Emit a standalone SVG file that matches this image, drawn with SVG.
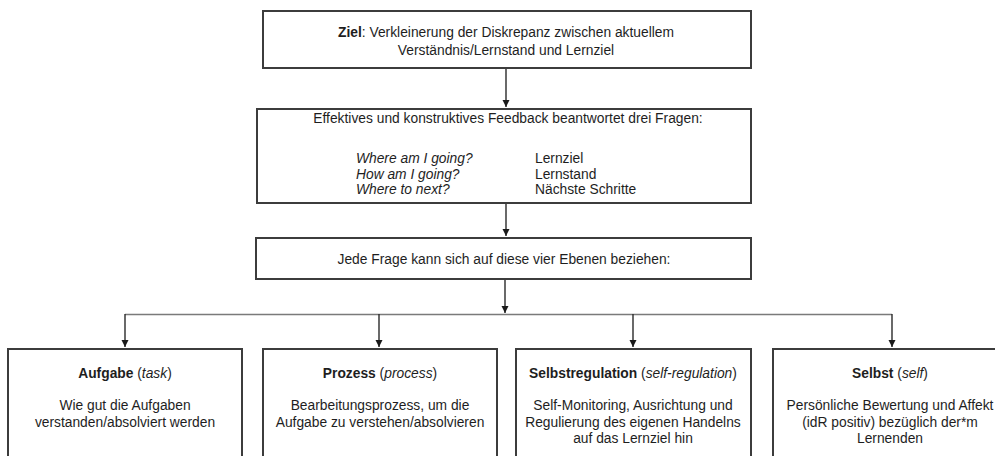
<svg xmlns="http://www.w3.org/2000/svg" width="995" height="456" viewBox="0 0 995 456">
<style>
  .box { fill: #ffffff; stroke: #3c3c3c; stroke-width: 2; }
  .t { font-family: "Liberation Sans", Arial, sans-serif; font-size: 13.8px; fill: #1e1e1e; }
  .c { text-anchor: middle; }
  .b { font-weight: bold; }
  .i { font-style: italic; }
  .conn { stroke: #2a2a2a; stroke-width: 1.4; fill: none; }
  .bar { stroke: #7a7a7a; stroke-width: 1.4; fill: none; }
</style>
<defs>
  <marker id="ah" markerWidth="8" markerHeight="8" refX="7" refY="4" orient="auto" markerUnits="userSpaceOnUse">
    <path d="M0,0.5 L7,4 L0,7.5 Z" fill="#1a1a1a"/>
  </marker>
</defs>
<rect width="995" height="456" fill="#ffffff"/>

<g id="connectors">
  <line class="conn" x1="506" y1="69" x2="506" y2="107" marker-end="url(#ah)"/>
  <line class="conn" x1="506" y1="203" x2="506" y2="236" marker-end="url(#ah)"/>
  <line class="conn" x1="505" y1="279" x2="505" y2="313" marker-end="url(#ah)"/>
  <line class="bar" x1="125" y1="314.5" x2="892" y2="314.5"/>
  <line class="conn" x1="125" y1="314" x2="125" y2="347" marker-end="url(#ah)"/>
  <line class="conn" x1="379" y1="314" x2="379" y2="347" marker-end="url(#ah)"/>
  <line class="conn" x1="633" y1="314" x2="633" y2="347" marker-end="url(#ah)"/>
  <line class="conn" x1="892" y1="314" x2="892" y2="347" marker-end="url(#ah)"/>
</g>

<g id="ziel">
  <rect class="box" x="263" y="11" width="488" height="57"/>
  <text class="t c" x="506" y="37"><tspan class="b">Ziel</tspan>: Verkleinerung der Diskrepanz zwischen aktuellem</text>
  <text class="t c" x="506" y="54.5">Verständnis/Lernstand und Lernziel</text>
</g>

<g id="feedback">
  <rect class="box" x="257" y="109" width="494" height="94"/>
  <text class="t c" x="508" y="122.5">Effektives und konstruktives Feedback beantwortet drei Fragen:</text>
  <text class="t i" x="356" y="163">Where am I going?</text>
  <text class="t i" x="356" y="178.5">How am I going?</text>
  <text class="t i" x="356" y="194">Where to next?</text>
  <text class="t" x="535" y="163">Lernziel</text>
  <text class="t" x="535" y="178.5">Lernstand</text>
  <text class="t" x="535" y="194">Nächste Schritte</text>
</g>

<g id="ebenen">
  <rect class="box" x="256" y="238" width="495" height="41"/>
  <text class="t c" x="504" y="263.5">Jede Frage kann sich auf diese vier Ebenen beziehen:</text>
</g>

<g id="aufgabe">
  <rect class="box" x="8" y="349" width="234" height="130"/>
  <text class="t c" x="125" y="378"><tspan class="b">Aufgabe</tspan> (<tspan class="i">task</tspan>)</text>
  <text class="t c" x="125" y="410">Wie gut die Aufgaben</text>
  <text class="t c" x="125" y="427">verstanden/absolviert werden</text>
</g>

<g id="prozess">
  <rect class="box" x="263" y="349" width="234" height="130"/>
  <text class="t c" x="380" y="378"><tspan class="b">Prozess</tspan> (<tspan class="i">process</tspan>)</text>
  <text class="t c" x="380" y="410">Bearbeitungsprozess, um die</text>
  <text class="t c" x="380" y="427">Aufgabe zu verstehen/absolvieren</text>
</g>

<g id="selbstregulation">
  <rect class="box" x="516" y="349" width="235" height="130"/>
  <text class="t c" x="633" y="378"><tspan class="b">Selbstregulation</tspan> (<tspan class="i">self-regulation</tspan>)</text>
  <text class="t c" x="633" y="410">Self-Monitoring, Ausrichtung und</text>
  <text class="t c" x="633" y="427">Regulierung des eigenen Handelns</text>
  <text class="t c" x="633" y="443">auf das Lernziel hin</text>
</g>

<g id="selbst">
  <rect class="box" x="773" y="349" width="240" height="130"/>
  <text class="t c" x="890" y="378"><tspan class="b">Selbst</tspan> (<tspan class="i">self</tspan>)</text>
  <text class="t c" x="890" y="410">Persönliche Bewertung und Affekt</text>
  <text class="t c" x="890" y="427">(idR positiv) bezüglich der*m</text>
  <text class="t c" x="890" y="443">Lernenden</text>
</g>
</svg>
